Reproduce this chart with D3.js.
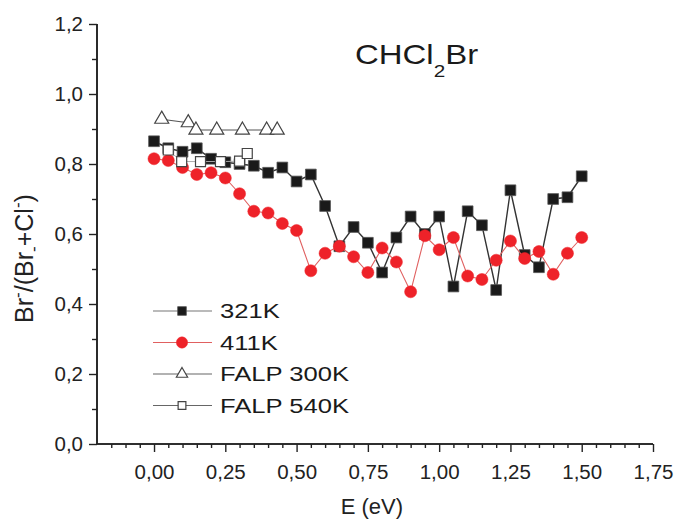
<!DOCTYPE html>
<html>
<head>
<meta charset="utf-8">
<script src="https://cdn.jsdelivr.net/npm/d3@7"></script>
<style>
  body { margin: 0; background: #fff; }
  svg { font-family: "Liberation Sans", Arial, sans-serif; }
</style>
</head>
<body>
<div id="chart"></div>
<script>
// energy grid for the two main series (eV)
const energies = [0, 0.05, 0.10, 0.15, 0.20, 0.25, 0.30, 0.35, 0.40, 0.45, 0.50, 0.55, 0.60, 0.65, 0.70, 0.75,
                  0.80, 0.85, 0.90, 0.95, 1.00, 1.05, 1.10, 1.15, 1.20, 1.25, 1.30, 1.35, 1.40, 1.45, 1.50];
const ratio321 = [0.865, 0.845, 0.835, 0.845, 0.815, 0.805, 0.80, 0.795, 0.775, 0.79, 0.75, 0.77, 0.68, 0.565, 0.62, 0.575,
                  0.49, 0.59, 0.65, 0.60, 0.65, 0.45, 0.665, 0.625, 0.44, 0.725, 0.54, 0.505, 0.70, 0.705, 0.765];
const ratio411 = [0.815, 0.81, 0.79, 0.77, 0.775, 0.76, 0.715, 0.665, 0.66, 0.63, 0.61, 0.495, 0.545, 0.565, 0.535, 0.49,
                  0.56, 0.52, 0.435, 0.595, 0.555, 0.59, 0.48, 0.47, 0.525, 0.58, 0.53, 0.55, 0.485, 0.545, 0.59];
// FALP literature points
const falp300E = [0.027, 0.12, 0.147, 0.22, 0.31, 0.395, 0.432];
const falp300V = [0.928, 0.918, 0.897, 0.897, 0.897, 0.897, 0.897];
const falp540E = [0.05, 0.097, 0.163, 0.233, 0.30, 0.327];
const falp540V = [0.84, 0.807, 0.807, 0.807, 0.808, 0.83];

const xMajor = [0, 0.25, 0.5, 0.75, 1.0, 1.25, 1.5, 1.75];
const yMajor = [0, 0.2, 0.4, 0.6, 0.8, 1.0, 1.2];
const legendLabels = ["321K", "411K", "FALP 300K", "FALP 540K"];

const width = 676, height = 520;
const svg = d3.select('#chart').append('svg')
    .attr('width', width)
    .attr('height', height);

const x = d3.scaleLinear().domain([-0.2, 1.75]).range([97, 653]);
const y = d3.scaleLinear().domain([0, 1.2]).range([444, 24]);

const comma = f => v => d3.format(f)(v).replace('.', ',');

// minor ticks every 0.05 / 0.1
const xMinor = d3.range(-0.15, 1.76, 0.05).filter(v => !xMajor.some(m => Math.abs(m - v) < 1e-6));
const yMinor = d3.range(0.1, 1.2, 0.2);

const axisColor = '#222';

// x axis
const gx = svg.append('g').attr('transform', `translate(0,${y(0)})`);
gx.append('g').call(d3.axisBottom(x).tickValues(xMinor).tickSize(4).tickFormat(''));
gx.append('g').call(d3.axisBottom(x).tickValues(xMajor).tickSize(8).tickPadding(12).tickFormat(comma('.2f')));
gx.selectAll('.domain').attr('d', `M${x(-0.2)},0H${x(1.75)}`);

// y axis
const gy = svg.append('g').attr('transform', `translate(${x(-0.2)},0)`);
gy.append('g').call(d3.axisLeft(y).tickValues(yMinor).tickSize(5).tickFormat(''));
gy.append('g').call(d3.axisLeft(y).tickValues(yMajor).tickSize(8).tickPadding(6).tickFormat(comma('.1f')));
gy.selectAll('.domain').attr('d', `M0,${y(1.2)}V${y(0)}`);

svg.selectAll('.domain').attr('stroke', axisColor).attr('stroke-width', 1.6);
svg.selectAll('.tick line').attr('stroke', axisColor).attr('stroke-width', 1.4);
svg.selectAll('.tick text').attr('font-size', 20.5).attr('fill', '#222')
    .attr('font-family', '"Liberation Sans", Arial, sans-serif');

// axis titles
svg.append('text')
    .attr('x', x(0.75) + 4).attr('y', 514)
    .attr('text-anchor', 'middle')
    .attr('font-size', 22).attr('fill', '#222')
    .text('E (eV)');

const ylab = svg.append('text')
    .attr('transform', `translate(33,${y(0.53)}) rotate(-90)`)
    .attr('text-anchor', 'middle')
    .attr('font-size', 25).attr('fill', '#222');
ylab.append('tspan').text('Br');
ylab.append('tspan').attr('dy', -10).attr('font-size', 17).text('-');
ylab.append('tspan').attr('dy', 10).text('/(Br');
ylab.append('tspan').attr('dy', 6).attr('font-size', 17).text('-');
ylab.append('tspan').attr('dy', -6).text('+Cl');
ylab.append('tspan').attr('dy', -10).attr('font-size', 17).text('-');
ylab.append('tspan').attr('dy', 10).text(')');

// title
const title = svg.append('text')
    .attr('x', 355).attr('y', 64)
    .attr('font-size', 27).attr('fill', '#1a1a1a')
    .attr('transform', 'translate(355,0) scale(1.22,1) translate(-355,0)');
title.append('tspan').text('CHCl');
title.append('tspan').attr('dy', 13).attr('font-size', 17).text('2');
title.append('tspan').attr('dy', -13).text('Br');

// series
const toPts = (xs, ys) => xs.map((e, i) => ({ e: e, v: ys[i] }));
const line = d3.line().x(d => x(d.e)).y(d => y(d.v));

const series = [
    { pts: toPts(energies, ratio321), lineColor: '#333', lineWidth: 1.4,
      symbol: d3.symbolSquare, size: 115, fill: '#1a1a1a', stroke: '#555', sw: 0.8 },
    { pts: toPts(energies, ratio411), lineColor: '#e06060', lineWidth: 1.1,
      symbol: d3.symbolCircle, size: 115, fill: '#ee2229', stroke: '#ee2229', sw: 0.5 },
    { pts: toPts(falp300E, falp300V), lineColor: '#555', lineWidth: 1.1,
      symbol: d3.symbolTriangle, size: 85, fill: '#fff', stroke: '#444', sw: 1.2 },
    { pts: toPts(falp540E, falp540V), lineColor: '#aaa', lineWidth: 1,
      symbol: d3.symbolSquare, size: 100, fill: '#fff', stroke: '#444', sw: 1.2 }
];

series.forEach(s => {
    svg.append('path')
        .datum(s.pts)
        .attr('d', line)
        .attr('fill', 'none')
        .attr('stroke', s.lineColor)
        .attr('stroke-width', s.lineWidth);
    svg.append('g').selectAll('path')
        .data(s.pts)
        .enter()
        .append('path')
        .attr('transform', d => `translate(${x(d.e)},${y(d.v)})`)
        .attr('d', d3.symbol().type(s.symbol).size(s.size))
        .attr('fill', s.fill)
        .attr('stroke', s.stroke)
        .attr('stroke-width', s.sw);
});

// legend
const legendLine = ['#777', '#e06060', '#666', '#666'];
const legendSize = [75, 100, 55, 60];
const legend = svg.append('g');
legendLabels.forEach((label, i) => {
    const s = series[i];
    const ly = 311 + i * 31.5;
    legend.append('line')
        .attr('x1', 153).attr('x2', 212).attr('y1', ly).attr('y2', ly)
        .attr('stroke', legendLine[i]).attr('stroke-width', 1.2);
    legend.append('path')
        .attr('transform', `translate(182,${ly})`)
        .attr('d', d3.symbol().type(s.symbol).size(legendSize[i]))
        .attr('fill', s.fill)
        .attr('stroke', s.stroke)
        .attr('stroke-width', s.sw);
    legend.append('text')
        .attr('x', 220).attr('y', ly + 7.5)
        .attr('font-size', 21).attr('fill', '#1a1a1a')
        .attr('transform', 'translate(220,0) scale(1.22,1) translate(-220,0)')
        .text(label);
});
</script>
</body>
</html>
